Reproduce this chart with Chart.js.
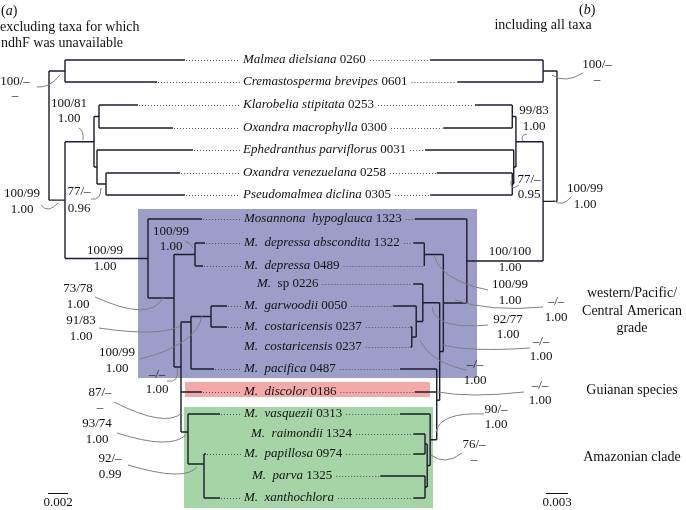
<!DOCTYPE html>
<html>
<head>
<meta charset="utf-8">
<script src="https://cdn.jsdelivr.net/npm/chart.js@4.4.0/dist/chart.umd.min.js"></script>
<style>
  html, body { margin: 0; padding: 0; background: #fff; }
  #wrap { width: 686px; height: 510px; position: relative; }
</style>
</head>
<body>
<div id="wrap"><canvas id="tree"></canvas></div>
<script>
const SERIF = '"Liberation Serif", "DejaVu Serif", serif';
const INK = '#1c1c2c';
const LEAD = '#808080';
const DOTS = '#555';

// taxa, top to bottom (italic part + plain part)
const taxonItalic = [
  'Malmea dielsiana', 'Cremastosperma brevipes', 'Klarobelia stipitata', 'Oxandra macrophylla',
  'Ephedranthus parviflorus', 'Oxandra venezuelana', 'Pseudomalmea diclina', 'Mosannona  hypoglauca',
  'M.  depressa abscondita', 'M.  depressa', 'M.', 'M.  garwoodii', 'M.  costaricensis',
  'M.  costaricensis', 'M.  pacifica', 'M.  discolor', 'M.  vasquezii', 'M.  raimondii',
  'M.  papillosa', 'M.  parva', 'M.  xanthochlora'
];
const taxonPlain = [
  ' 0260', ' 0601', ' 0253', ' 0300', ' 0031', ' 0258', ' 0305', ' 1323', ' 1322', ' 0489',
  '  sp 0226', ' 0050', ' 0237', ' 0237', ' 0487', ' 0186', ' 0313', ' 1324', ' 0974', ' 1325', ''
];
const taxonRowY = [60, 82, 105, 128, 150, 173, 195, 219, 243, 266, 284, 306, 327, 347, 369, 392, 414, 434, 454, 476, 498];
const taxonTextX = [243, 243, 243, 243, 243, 243, 243, 244, 244, 244, 257, 244, 244, 244, 244, 244, 244, 251, 244, 252, 244];

// (a) tip depths (subst./site from root); null = taxon left out of (a)
const tipDepthA = [0.0136, 0.0108, 0.0089, 0.0124, 0.0144, 0.0131, 0.0136, 0.0153, 0.0156, 0.0154, null,
  0.0178, 0.0178, null, 0.0165, 0.0153, 0.0171, null, 0.0157, null, 0.0171];
// (a) internal nodes: depth, children (number = taxon, string = node), optional row
const nodesA = [
  { id: 'root', d: 0, kids: ['A', 'B'] },
  { id: 'A', d: 0.0016, kids: [0, 1] },
  { id: 'B', d: 0.0016, kids: ['C', 'D'] },
  { id: 'C', d: 0.0045, kids: ['E', 'F'] },
  { id: 'E', d: 0.0050, kids: [2, 3] },
  { id: 'F', d: 0.0048, kids: [4, 'G'] },
  { id: 'G', d: 0.0057, kids: [5, 6] },
  { id: 'D', d: 0.0099, kids: [7, 'H'] },
  { id: 'H', d: 0.0125, kids: ['I', 'L'], y: 298 },
  { id: 'I', d: 0.0146, kids: [8, 9] },
  { id: 'L', d: 0.0132, kids: ['J', 15, 'M'], y: 367 },
  { id: 'J', d: 0.0142, kids: ['K', 14], y: 322 },
  { id: 'K', d: 0.0162, kids: [11, 12] },
  { id: 'M', d: 0.0139, kids: [16, 'N'], y: 432 },
  { id: 'N', d: 0.0155, kids: [18, 20], y: 464 }
];

// (b) tip depths and nodes (tree drawn right to left)
const tipDepthB = [0.0173, 0.0136, 0.0112, 0.0155, 0.0180, 0.0164, 0.0173, 0.0194, 0.0196, 0.0181, 0.0196,
  0.0224, 0.0200, 0.0200, 0.0214, 0.0194, 0.0214, 0.0196, 0.0196, 0.0241, 0.0196];
const nodesB = [
  { id: 'R', d: 0, kids: ['A', 'B'] },
  { id: 'A', d: 0.0019, kids: [0, 1] },
  { id: 'B', d: 0.0019, kids: ['C', 'D'] },
  { id: 'C', d: 0.0056, kids: ['E', 'F'] },
  { id: 'E', d: 0.0061, kids: [2, 3] },
  { id: 'F', d: 0.0059, kids: [4, 'G'] },
  { id: 'G', d: 0.0061, kids: [5, 6] },
  { id: 'D', d: 0.0123, kids: [7, 'H'] },
  { id: 'H', d: 0.0155, kids: ['I', 'Y'] },
  { id: 'I', d: 0.0181, kids: [8, 9] },
  { id: 'Y', d: 0.0160, kids: ['S', 'X'] },
  { id: 'S', d: 0.0183, kids: [10, 'J'] },
  { id: 'J', d: 0.0192, kids: [11, 'K'] },
  { id: 'K', d: 0.0198, kids: [12, 13] },
  { id: 'X', d: 0.0164, kids: [14, 15, 'U'] },
  { id: 'U', d: 0.0173, kids: [16, 'V'] },
  { id: 'V', d: 0.0177, kids: ['W1', 'W2'] },
  { id: 'W1', d: 0.0180, kids: [17, 18] },
  { id: 'W2', d: 0.0180, kids: [19, 20] }
];

// support values (bootstrap / posterior)
const supportA = [['100/–', '–'], ['100/81', '1.00'], ['100/99', '1.00'], ['77/–', '0.96'], ['100/99', '1.00'],
  ['100/99', '1.00'], ['73/78', '1.00'], ['91/83', '1.00'], ['100/99', '1.00'], ['–/–', '1.00'],
  ['87/–', '–'], ['93/74', '1.00'], ['92/–', '0.99']];
const supportB = [['100/–', '–'], ['99/83', '1.00'], ['77/–', '0.95'], ['100/99', '1.00'], ['100/100', '1.00'],
  ['100/99', '1.00'], ['–/–', '1.00'], ['92/77', '1.00'], ['–/–', '1.00'], ['–/–', '1.00'],
  ['–/–', '1.00'], ['90/–', '1.00'], ['76/–', '–']];

const groupNames = [['western/Pacific/', 'Central American', 'grade'], ['Guianan species'], ['Amazonian clade']];
const scaleBarLen = [0.002, 0.003];

// ---- layout (pixel positions of annotations) ----
// [centre x, line1 y, line2 y, leader: x0,y0, cx,cy, x1,y1]
const supportPosA = [
  [15, 82, 96, [37, 87, 50, 88, 60, 75]],
  [69, 104, 119, [79, 128, 84, 131, 83, 140]],
  [22, 194, 210, [41, 205, 48, 214, 58, 203]],
  [79, 192, 209, [91, 199, 101, 201, 101, 188]],
  [105, 251, 267, null],
  [171, 232, 247, [185, 241, 190, 242, 193, 248]],
  [78, 289, 305, [95, 297, 150, 322, 163, 298]],
  [81, 321, 337, [99, 328, 160, 337, 180, 326]],
  [117, 353, 369, [140, 359, 196, 345, 202, 316]],
  [157, 375, 390, [167, 381, 180, 383, 177, 368]],
  [100, 393, 408, [114, 402, 165, 428, 182, 413]],
  [97, 424, 440, [117, 433, 170, 450, 186, 435]],
  [110, 459, 475, [128, 465, 185, 482, 197, 467]]
];
const supportPosB = [
  [597, 65, 80, [583, 73, 565, 84, 552, 75]],
  [534, 111, 127, [527, 134, 520, 135, 523, 141]],
  [529, 180, 195, [519, 185, 510, 192, 511, 181]],
  [585, 189, 205, [571, 197, 562, 208, 553, 200]],
  [510, 252, 268, null],
  [510, 285, 301, [488, 290, 440, 280, 434, 255]],
  [556, 302, 318, [543, 307, 490, 312, 455, 300]],
  [508, 320, 335, [488, 325, 435, 330, 432, 307]],
  [541, 342, 357, [530, 348, 470, 352, 443, 345]],
  [475, 365, 381, [466, 370, 430, 362, 420, 340]],
  [540, 386, 401, [524, 392, 470, 398, 438, 392]],
  [496, 410, 425, [484, 414, 440, 412, 436, 432]],
  [474, 445, 460, [462, 453, 445, 466, 431, 455]]
];
const groupBox = [[138, 477, 209, 378, '#9c9ec9'], [185, 430, 382, 397, '#f3a9a8'], [184, 433, 407, 508, '#a5d5a7']];
const groupLabelY = [[293, 311, 328], [390], [457]];

function treeSegments(nodes, tipDepth) {
  const byId = {};
  nodes.forEach(n => { byId[n.id] = n; });
  const yOf = k => (typeof k === 'number' ? taxonRowY[k] : nodeY(byId[k]));
  const dOf = k => (typeof k === 'number' ? tipDepth[k] : byId[k].d);
  function nodeY(n) {
    if (n.y == null) n.y = n.kids.reduce((s, k) => s + yOf(k), 0) / n.kids.length;
    return n.y;
  }
  const pts = [];
  nodes.forEach(n => {
    const ys = n.kids.map(yOf);
    pts.push({ x: n.d, y: Math.min(...ys) }, { x: n.d, y: Math.max(...ys) }, { x: null, y: null });
    n.kids.forEach(k => {
      pts.push({ x: n.d, y: yOf(k) }, { x: dOf(k), y: yOf(k) }, { x: null, y: null });
    });
  });
  return pts;
}

function font(size, italic) {
  return (italic ? 'italic ' : '') + size + 'px ' + SERIF;
}

// coloured clade boxes behind the trees
const boxesPlugin = {
  id: 'boxes',
  beforeDatasetsDraw(chart) {
    const { ctx, scales: { x, y } } = chart;
    ctx.save();
    groupBox.forEach(([x0, x1, y0, y1, col]) => {
      const px0 = x.getPixelForValue(x0), px1 = x.getPixelForValue(x1);
      const py0 = y.getPixelForValue(y0), py1 = y.getPixelForValue(y1);
      ctx.fillStyle = col;
      ctx.fillRect(px0, py0, px1 - px0, py1 - py0);
    });
    ctx.restore();
  }
};

const textPlugin = {
  id: 'texts',
  afterDatasetsDraw(chart) {
    const { ctx, scales: { x, y, xa, xb } } = chart;
    ctx.save();
    ctx.textBaseline = 'middle';
    ctx.fillStyle = '#111';

    // taxon labels + dotted connectors
    taxonItalic.forEach((name, i) => {
      const ty = y.getPixelForValue(taxonRowY[i]);
      const tx = x.getPixelForValue(taxonTextX[i]);
      ctx.textAlign = 'left';
      ctx.font = font(13, true);
      const w1 = ctx.measureText(name).width;
      ctx.fillText(name, tx, ty);
      ctx.font = font(13, false);
      const w2 = ctx.measureText(taxonPlain[i]).width;
      ctx.fillText(taxonPlain[i], tx + w1, ty);

      ctx.strokeStyle = DOTS;
      ctx.lineWidth = 1;
      ctx.setLineDash([1, 2]);
      ctx.beginPath();
      if (tipDepthA[i] != null) {
        const a = xa.getPixelForValue(tipDepthA[i]);
        ctx.moveTo(a + 1, Math.round(ty) + 0.5);
        ctx.lineTo(tx - 3, Math.round(ty) + 0.5);
      }
      const b = xb.getPixelForValue(tipDepthB[i]);
      ctx.moveTo(tx + w1 + w2 + 4, Math.round(ty) + 0.5);
      ctx.lineTo(b - 1, Math.round(ty) + 0.5);
      ctx.stroke();
      ctx.setLineDash([]);
    });

    // support values with leader lines
    ctx.font = font(13, false);
    ctx.textAlign = 'center';
    const drawSupport = (vals, pos) => {
      vals.forEach((v, i) => {
        const [cx, y1, y2, lead] = pos[i];
        ctx.fillStyle = '#111';
        ctx.fillText(v[0], x.getPixelForValue(cx), y.getPixelForValue(y1));
        ctx.fillText(v[1], x.getPixelForValue(cx), y.getPixelForValue(y2));
        if (lead) {
          ctx.strokeStyle = LEAD;
          ctx.lineWidth = 1;
          ctx.beginPath();
          ctx.moveTo(x.getPixelForValue(lead[0]), y.getPixelForValue(lead[1]));
          ctx.quadraticCurveTo(x.getPixelForValue(lead[2]), y.getPixelForValue(lead[3]),
            x.getPixelForValue(lead[4]), y.getPixelForValue(lead[5]));
          ctx.stroke();
        }
      });
    };
    drawSupport(supportA, supportPosA);
    drawSupport(supportB, supportPosB);

    // group labels
    ctx.font = font(14, false);
    ctx.fillStyle = '#111';
    groupNames.forEach((lines, g) => {
      lines.forEach((t, k) => ctx.fillText(t, x.getPixelForValue(632), y.getPixelForValue(groupLabelY[g][k])));
    });

    // panel headings
    ctx.textAlign = 'left';
    const runs = (parts, px, py) => {
      let cx = px;
      parts.forEach(([t, it]) => {
        ctx.font = font(14, it);
        ctx.fillText(t, cx, py);
        cx += ctx.measureText(t).width;
      });
    };
    runs([['(', false], ['a', true], [')', false]], x.getPixelForValue(1), y.getPixelForValue(11));
    ctx.font = font(14, false);
    ctx.fillText('excluding taxa for which', x.getPixelForValue(0), y.getPixelForValue(27));
    ctx.fillText('ndhF was unavailable', x.getPixelForValue(1), y.getPixelForValue(43));
    runs([['(', false], ['b', true], [')', false]], x.getPixelForValue(579), y.getPixelForValue(10));
    ctx.textAlign = 'center';
    ctx.font = font(14, false);
    ctx.fillText('including all taxa', x.getPixelForValue(543), y.getPixelForValue(25));

    // scale bars
    ctx.strokeStyle = '#111';
    ctx.lineWidth = 1;
    const barA0 = xa.getPixelForValue(-0.0001), barA1 = xa.getPixelForValue(-0.0001 + scaleBarLen[0]);
    const barB0 = xb.getPixelForValue(0.0015), barB1 = xb.getPixelForValue(0.0015 - scaleBarLen[1]);
    const by = Math.round(y.getPixelForValue(493)) + 0.5;
    ctx.beginPath();
    ctx.moveTo(barA0, by); ctx.lineTo(barA1, by);
    ctx.moveTo(barB0, by); ctx.lineTo(barB1, by);
    ctx.stroke();
    ctx.font = font(13, false);
    ctx.fillText(String(scaleBarLen[0]), (barA0 + barA1) / 2, y.getPixelForValue(503));
    ctx.fillText(String(scaleBarLen[1]), (barB0 + barB1) / 2, y.getPixelForValue(503));
    ctx.restore();
  }
};

const lineStyle = {
  showLine: true,
  borderColor: INK,
  borderWidth: 1.4,
  pointRadius: 0,
  spanGaps: false,
  tension: 0,
  yAxisID: 'y'
};

new Chart(document.getElementById('tree'), {
  type: 'scatter',
  data: {
    datasets: [
      { ...lineStyle, label: '(a)', data: treeSegments(nodesA, tipDepthA), xAxisID: 'xa' },
      { ...lineStyle, label: '(b)', data: treeSegments(nodesB, tipDepthB), xAxisID: 'xb' }
    ]
  },
  options: {
    animation: false,
    responsive: true,
    maintainAspectRatio: false,
    events: [],
    layout: { padding: 0 },
    plugins: { legend: { display: false }, tooltip: { enabled: false } },
    scales: {
      x: { type: 'linear', display: false, min: 0, max: 686 },
      xa: { type: 'linear', axis: 'x', display: false, min: -0.0049, max: 0.0637 },
      xb: { type: 'linear', axis: 'x', display: false, min: -129 / 7333, max: 557 / 7333, reverse: true },
      y: { type: 'linear', display: false, min: 0, max: 510, reverse: true }
    }
  },
  plugins: [boxesPlugin, textPlugin]
});
</script>
</body>
</html>
